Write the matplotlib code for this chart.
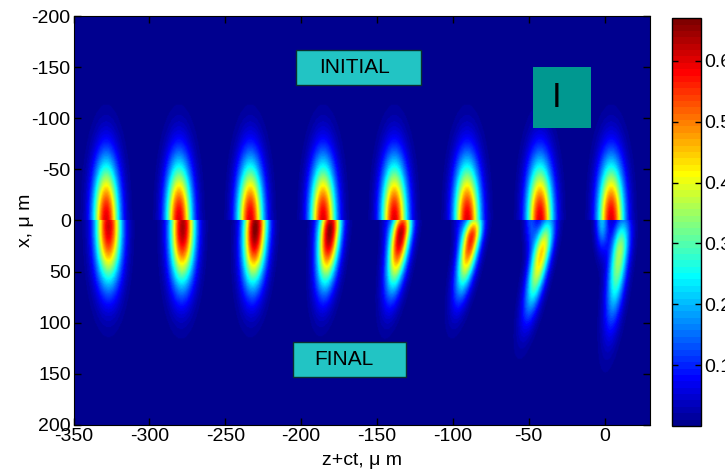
import numpy as np
import matplotlib
matplotlib.use("Agg")
import matplotlib.pyplot as plt
from matplotlib.colors import ListedColormap
from matplotlib.patches import Rectangle

plt.rcParams['font.family'] = ['Liberation Sans', 'DejaVu Sans']
plt.rcParams['axes.unicode_minus'] = False

# ---- data ----
pulse_centers = [-329, -281, -234, -186, -139, -91, -43, 4]      # z+ct of each pulse, um
initial_amp = [0.60, 0.60, 0.60, 0.60, 0.60, 0.60, 0.60, 0.60]
initial_sig_z = [6.0, 6.0, 6.0, 6.0, 6.0, 6.0, 6.0, 6.0]
initial_sig_x = [40, 40, 40, 40, 40, 40, 40, 40]

final_amp = [0.61, 0.64, 0.67, 0.66, 0.63, 0.56, 0.44, 0.36]
final_xpeak = [6, 7, 8, 10, 13, 17, 32, 32]
final_sig_up = [38, 36, 30, 25, 20, 18, 25, 25]
final_sig_down = [38, 38, 37, 36, 36, 35, 38, 44]
final_shift0 = [1.5, 2.5, 3.5, 5.0, 5.5, 5.0, 5.5, 8.0]
final_tilt = [0.0, 0.01, 0.03, 0.06, 0.10, 0.13, 0.14, 0.08]
final_sig_z = [6.0, 5.8, 5.5, 5.0, 4.6, 4.3, 4.2, 4.2]
side_amp = [0.0, 0.0, 0.0, 0.02, 0.04, 0.06, 0.12, 0.20]
side_shift = [-5, -5, -5, -5, -5, -5, -6, -6]

z_range = [-350, 30]
x_range = [-200, 200]
cbar_ticks = [0.1, 0.2, 0.3, 0.4, 0.5, 0.6]
c_range = [0.0, 0.67]
x_ticks = [-350, -300, -250, -200, -150, -100, -50, 0]
y_ticks = [-200, -150, -100, -50, 0, 50, 100, 150, 200]

# ---- MATLAB-style jet(64) colormap ----
def matlab_jet(n=64):
    m = int(np.ceil(n / 4))
    u = np.concatenate([np.arange(1, m + 1) / m, np.ones(m - 1), np.arange(m, 0, -1) / m])
    g = int(np.ceil(m / 2)) - (1 if n % 4 == 1 else 0) + np.arange(1, len(u) + 1)
    r = g + m
    b = g - m
    J = np.zeros((n, 3))
    J[r[r <= n] - 1, 0] = u[r <= n]
    J[g[g <= n] - 1, 1] = u[g <= n]
    J[b[b >= 1] - 1, 2] = u[b >= 1]
    return ListedColormap(J)

# ---- build intensity map ----
z = np.arange(z_range[0], z_range[1] + 0.25, 0.5)
x = np.arange(x_range[0], x_range[1] + 0.5, 1.0)
Z, X = np.meshgrid(z, x)
F = np.zeros_like(Z)
top = X < 0
bot = ~top
for k, zc in enumerate(pulse_centers):
    gi = initial_amp[k] * np.exp(-(Z - zc) ** 2 / (2 * initial_sig_z[k] ** 2)) \
        * np.exp(-X ** 2 / (2 * initial_sig_x[k] ** 2))
    F[top] += gi[top]
    s = final_shift0[k] - final_tilt[k] * X
    sx = np.where(X < final_xpeak[k], final_sig_up[k], final_sig_down[k])
    gf = final_amp[k] * np.exp(-(Z - zc - s) ** 2 / (2 * final_sig_z[k] ** 2)) \
        * np.exp(-(X - final_xpeak[k]) ** 2 / (2 * sx ** 2))
    gs = side_amp[k] * np.exp(-(Z - zc - side_shift[k]) ** 2 / (2 * 3.0 ** 2)) \
        * np.exp(-X ** 2 / (2 * 20.0 ** 2))
    F[bot] += gf[bot] + gs[bot]

# ---- figure ----
fig = plt.figure(figsize=(7.25, 4.72), dpi=100)
ax = fig.add_axes([0.1014, 0.0996, 0.7952, 0.8665])
cmap = matlab_jet(64)
im = ax.imshow(F, extent=[z_range[0], z_range[1], x_range[1], x_range[0]],
               cmap=cmap, vmin=c_range[0], vmax=c_range[1], aspect='auto',
               interpolation='bilinear')
ax.set_xlim(z_range)
ax.set_ylim(x_range[1], x_range[0])
ax.set_xticks(x_ticks)
ax.set_yticks(y_ticks)
ax.tick_params(direction='in', top=True, right=True, length=5, width=1,
               labelsize=14, pad=2)
ax.set_xlabel('z+ct, \u03bc m', fontsize=14, labelpad=5)
ax.set_ylabel('x, \u03bc m', fontsize=14, labelpad=-2)


def label_box(x0, x1, y0, y1, text, fc, fs, tx=None):
    ax.add_patch(Rectangle((x0, y0), x1 - x0, y1 - y0, transform=ax.transAxes,
                           fc=fc, ec='#0a3030', lw=1, zorder=3))
    cx = (x0 + x1) / 2 if tx is None else tx
    ax.text(cx, (y0 + y1) / 2, text, fontsize=fs, ha='center', va='center',
            transform=ax.transAxes, zorder=4)


label_box(0.386, 0.603, 0.831, 0.917, 'INITIAL', '#22c4c4', 15, tx=0.488)
label_box(0.381, 0.577, 0.117, 0.203, 'FINAL', '#22c4c4', 15, tx=0.469)
ax.add_patch(Rectangle((0.797, 0.726), 0.101, 0.149, transform=ax.transAxes,
                       fc='#009890', ec='none', zorder=3))
ax.text(0.838, 0.80, 'I', fontsize=25, ha='center', va='center',
        transform=ax.transAxes, zorder=4)

cax = fig.add_axes([0.927, 0.0975, 0.040, 0.864])
cb = fig.colorbar(im, cax=cax, ticks=cbar_ticks)
cb.ax.tick_params(direction='in', left=True, right=True, length=4, width=1,
                  labelsize=14, pad=2)
cb.outline.set_linewidth(1)

fig.savefig('out.png', dpi=100)
